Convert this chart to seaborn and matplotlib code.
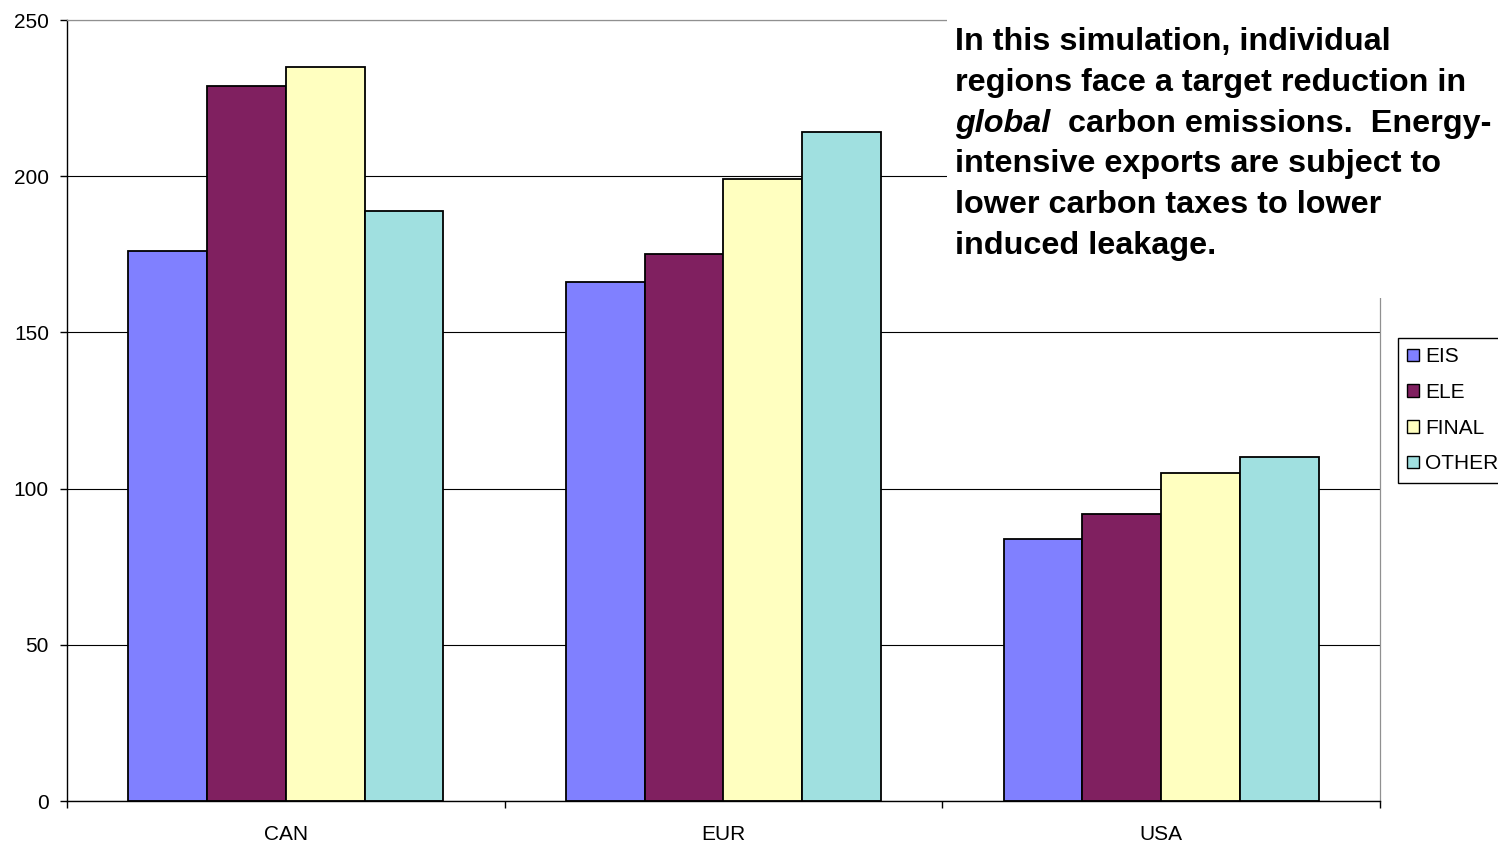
import matplotlib
matplotlib.use("Agg")
import numpy as np
import pandas as pd
import matplotlib.pyplot as plt
import seaborn as sns
from matplotlib.patches import Rectangle, Patch
from matplotlib.ticker import FixedLocator
from matplotlib.text import Annotation

# Data
regions = ["CAN", "EUR", "USA"]
sectors = ["EIS", "ELE", "FINAL", "OTHER"]
eis = [176, 166, 84]
ele = [229, 175, 92]
final = [235, 199, 105]
other = [189, 214, 110]
yticks = [0, 50, 100, 150, 200, 250]
colors = ["#8080FF", "#802060", "#FFFFC0", "#A0E0E0"]

note_lines = [
    "In this simulation, individual",
    "regions face a target reduction in",
    None,  # mixed-style line drawn separately
    "intensive exports are subject to",
    "lower carbon taxes to lower",
    "induced leakage.",
]
note_italic = "global"
note_rest = "  carbon emissions.  Energy-"

df = pd.DataFrame({
    "region": np.repeat(regions, len(sectors)),
    "sector": sectors * len(regions),
    "value": np.column_stack([eis, ele, final, other]).ravel(),
})

sns.set_style("white")
plt.rcParams["font.family"] = ["Liberation Sans", "DejaVu Sans"]
plt.rcParams["text.color"] = "black"

W, H = 1498, 846
fig = plt.figure(figsize=(W / 100, H / 100), dpi=100)
ax = fig.add_axes([67 / W, 1 - 801 / H, (1380 - 67) / W, (801 - 20) / H])

sns.barplot(data=df, x="region", y="value", hue="sector", order=regions,
            hue_order=sectors, palette=colors, saturation=1, width=0.72,
            edgecolor="black", linewidth=1.3, legend=False, ax=ax)

ax.set_xlim(-0.5, len(regions) - 0.5)
ax.set_ylim(yticks[0], yticks[-1])
ax.set_yticks(yticks)
ax.set_xlabel("")
ax.set_ylabel("")

# Gridlines: black inside, the top one is the grey plot border
ax.yaxis.grid(True, color="black", linewidth=0.8)
ax.set_axisbelow(True)
ax.get_ygridlines()[-1].set_color("#909090")

for side in ["top", "right"]:
    ax.spines[side].set_visible(True)
    ax.spines[side].set_color("#909090")
    ax.spines[side].set_linewidth(0.9)
for side in ["left", "bottom"]:
    ax.spines[side].set_color("black")
    ax.spines[side].set_linewidth(1.0)

ax.tick_params(axis="y", direction="out", length=5, width=1, pad=8,
               labelsize=15, colors="black", left=True)
ax.tick_params(axis="x", which="major", length=0, pad=17, labelsize=15,
               colors="black")
ax.xaxis.set_minor_locator(FixedLocator(np.arange(len(regions) + 1) - 0.5))
ax.tick_params(axis="x", which="minor", direction="out", length=5, width=1,
               bottom=True, color="black")

# Note box covering the upper right corner
fig.patches.append(Rectangle((947 / W, 1 - 298 / H), 1 - 947 / W, 298 / H,
                             transform=fig.transFigure, facecolor="white",
                             edgecolor="none", zorder=2))

note_size = 23.3
x0 = 955 / W
line_h = 40.8
first_base = 50
for i, line in enumerate(note_lines):
    y = 1 - (first_base + i * line_h) / H
    if line is None:
        t1 = fig.text(x0, y, note_italic, fontsize=note_size, fontweight="bold",
                      fontstyle="italic", va="baseline", zorder=3,
                      color="black")
        rest = Annotation(note_rest, xy=(1, 0), xycoords=t1, va="bottom",
                          ha="left", fontsize=note_size, fontweight="bold",
                          annotation_clip=False, zorder=3, color="black")
        fig.add_artist(rest)
    else:
        fig.text(x0, y, line, fontsize=note_size, fontweight="bold",
                 va="baseline", zorder=3, color="black")

# Legend at the right edge
handles = [Patch(facecolor=c, edgecolor="black", linewidth=1.0) for c in colors]
leg = fig.legend(handles, sectors, loc="upper left",
                 bbox_to_anchor=(1398 / W, 1 - 338 / H), borderaxespad=0,
                 frameon=True, fancybox=False, framealpha=1, edgecolor="black",
                 fontsize=15, handlelength=0.55, handleheight=0.55,
                 handletextpad=0.3, labelspacing=0.8, borderpad=0.45,
                 labelcolor="black")
leg.get_frame().set_linewidth(1.0)

fig.savefig("out.png", dpi=100, facecolor="white")
